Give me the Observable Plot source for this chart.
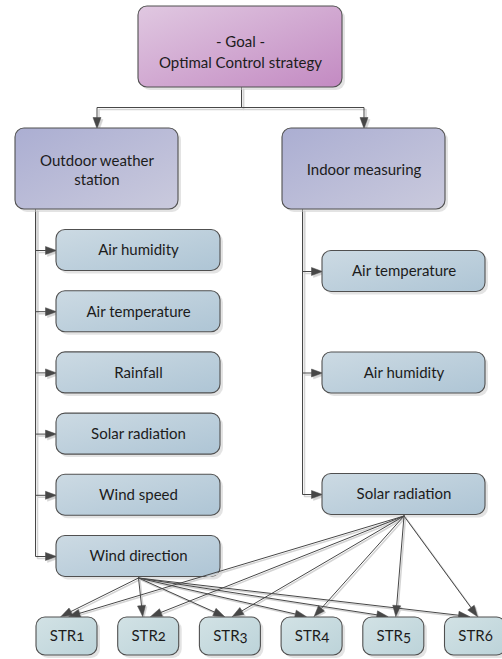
<!DOCTYPE html>
<html><head><meta charset="utf-8">
<script src="https://cdn.jsdelivr.net/npm/d3@7"></script>
<script src="https://cdn.jsdelivr.net/npm/@observablehq/plot@0.6"></script>
<style>
body{margin:0;background:#fff}
#chart svg text{font-variant-numeric:oldstyle-nums;font-feature-settings:"onum" 1}
</style>
</head><body><div id="chart"></div>
<script>
// ---------- data ----------
const goalLines = ["- Goal -", "Optimal Control strategy"];
const groupLabels = ["Outdoor weather\nstation", "Indoor measuring"];
const outdoorItems = ["Air humidity", "Air temperature", "Rainfall", "Solar radiation", "Wind speed", "Wind direction"];
const indoorItems = ["Air temperature", "Air humidity", "Solar radiation"];
const strategies = ["STR1", "STR2", "STR3", "STR4", "STR5", "STR6"];
// each strategy receives one input from each of these source items
const strategySources = [["outdoor", "Wind direction"], ["indoor", "Solar radiation"]];

// ---------- layout (pixel units via identity scales) ----------
const W = 502, H = 659;
const LAY = {
  goal: {x1: 138, x2: 342, y1: 6, y2: 87},
  groups: [{cx: 96.5}, {cx: 363.5}], groupW: 163, groupY1: 128, groupY2: 209,
  busY: 107, stemX: 241,
  outdoor: {spine: 35, x1: 56, x2: 220, top: 250, step: 61.2, h: 41},
  indoor: {spine: 302, x1: 322, x2: 485, rows: [271, 372.5, 494], h: 41},
  str: {cx0: 66.5, step: 81.7, w: 61, y1: 617, y2: 655}
};

const nodes = [];
const g = LAY.goal;
nodes.push({id: "goal", kind: "goal", x1: g.x1, x2: g.x2, y1: g.y1, y2: g.y2, label: goalLines.join("\n")});
groupLabels.forEach((lab, i) => {
  const cx = LAY.groups[i].cx;
  nodes.push({id: "group" + i, kind: "group", x1: cx - LAY.groupW / 2, x2: cx + LAY.groupW / 2, y1: LAY.groupY1, y2: LAY.groupY2, label: lab});
});
const O = LAY.outdoor, I = LAY.indoor, S = LAY.str;
outdoorItems.forEach((lab, i) => {
  const cy = O.top + i * O.step;
  nodes.push({id: "outdoor:" + lab, kind: "item", x1: O.x1, x2: O.x2, y1: cy - O.h / 2, y2: cy + O.h / 2, label: lab});
});
indoorItems.forEach((lab, i) => {
  const cy = I.rows[i];
  nodes.push({id: "indoor:" + lab, kind: "item", x1: I.x1, x2: I.x2, y1: cy - I.h / 2, y2: cy + I.h / 2, label: lab});
});
strategies.forEach((lab, i) => {
  const cx = S.cx0 + i * S.step;
  nodes.push({id: "str" + i, kind: "str", x1: cx - S.w / 2, x2: cx + S.w / 2, y1: S.y1, y2: S.y2, label: lab});
});
nodes.forEach(n => { n.cx = (n.x1 + n.x2) / 2; n.cy = (n.y1 + n.y2) / 2; });
const byId = Object.fromEntries(nodes.map(n => [n.id, n]));

// ---------- connectors ----------
const HEAD = 11, HW = 4;
const treeConn = [], strConn = [];
[0, 1].forEach(i => {
  const gn = byId["group" + i];
  treeConn.push([[LAY.stemX, g.y2], [LAY.stemX, LAY.busY], [gn.cx, LAY.busY], [gn.cx, gn.y1]]);
});
outdoorItems.forEach(lab => {
  const n = byId["outdoor:" + lab];
  treeConn.push([[O.spine, LAY.groupY2], [O.spine, n.cy], [n.x1, n.cy]]);
});
indoorItems.forEach(lab => {
  const n = byId["indoor:" + lab];
  treeConn.push([[I.spine, LAY.groupY2], [I.spine, n.cy], [n.x1, n.cy]]);
});
strategySources.forEach(([grp, lab], k) => {
  const src = byId[grp + ":" + lab];
  strategies.forEach((s, i) => {
    const t = byId["str" + i];
    strConn.push([[src.cx, src.y2 + 1], [t.cx + (k === 0 ? -6 : 2), t.y1 - 1]]);
  });
});

function build(conns, prefix, dx = 0, dy = 0) {
  const lines = [], heads = [];
  conns.forEach((pts, ci) => {
    const n = pts.length;
    const [ax, ay] = pts[n - 2], [bx, by] = pts[n - 1];
    const len = Math.hypot(bx - ax, by - ay), ux = (bx - ax) / len, uy = (by - ay) / len;
    const bx2 = bx - ux * HEAD, by2 = by - uy * HEAD;
    const p = pts.slice(0, n - 1).concat([[bx2, by2]]);
    p.forEach(([x, y]) => lines.push({id: prefix + ci, x: x + dx, y: y + dy}));
    const px = -uy, py = ux;
    [[bx, by], [bx2 + px * HW, by2 + py * HW], [bx2 - px * HW, by2 - py * HW], [bx, by]]
      .forEach(([x, y]) => heads.push({id: prefix + ci, x: x + dx, y: y + dy}));
  });
  return {lines, heads};
}
const tree = build(treeConn, "t"), treeSh = build(treeConn, "t", 2, 2);
const strA = build(strConn, "s"), strSh = build(strConn, "s", 1.5, 1.5);

const INK = "#474747", SH = "#d4d4d4";
function connMarks(main, sh) {
  return [
    Plot.line(sh.lines, {x: "x", y: "y", z: "id", stroke: SH, strokeWidth: 1.5}),
    Plot.line(sh.heads, {x: "x", y: "y", z: "id", fill: SH, stroke: SH, strokeWidth: 0.5}),
    Plot.line(main.lines, {x: "x", y: "y", z: "id", stroke: INK, strokeWidth: 1}),
    Plot.line(main.heads, {x: "x", y: "y", z: "id", fill: INK, stroke: INK, strokeWidth: 0.5})
  ];
}
function boxMarks(kind) {
  const data = nodes.filter(n => n.kind === kind);
  return [
    Plot.rect(data, {x1: d => d.x1 + 3, x2: d => d.x2 + 3, y1: d => d.y1 + 3, y2: d => d.y2 + 3, rx: 9, fill: "#c8c8c8", fillOpacity: 0.5}),
    Plot.rect(data, {x1: "x1", x2: "x2", y1: "y1", y2: "y2", rx: 9, fill: `url(#grad-${kind})`, stroke: "#505050", strokeWidth: 1.1})
  ];
}

const FS = 15;
const chart = Plot.plot({
  width: W, height: H, margin: 0,
  x: {domain: [0, W], range: [0, W], axis: null},
  y: {domain: [0, H], range: [0, H], axis: null},
  style: {fontFamily: "Lato, 'Open Sans', sans-serif", background: "#fff"},
  marks: [
    ...connMarks(tree, treeSh),
    ...boxMarks("goal"), ...boxMarks("group"), ...boxMarks("item"),
    ...connMarks(strA, strSh),
    ...boxMarks("str"),
    Plot.text(nodes.filter(n => n.kind === "goal"), {x: "cx", y: d => d.cy + 4, text: "label", fontSize: FS, lineHeight: 1.4, fill: "#1c1c1c"}),
    Plot.text(nodes.filter(n => n.kind === "group"), {x: "cx", y: "cy", text: "label", fontSize: FS, lineHeight: 1.27, fill: "#1c1c1c"}),
    Plot.text(nodes.filter(n => n.kind === "item" || n.kind === "str"), {x: "cx", y: "cy", text: "label", fontSize: FS, fill: "#1c1c1c"})
  ]
});

const grads = {
  goal: ["#e0c8e1", "#c38ac2"],
  group: ["#abaed2", "#cacadd"],
  item: ["#ccdae3", "#aec5d5"],
  str: ["#d2e2e5", "#bcd3d9"]
};
const defs = d3.select(chart).insert("defs", ":first-child");
Object.entries(grads).forEach(([k, [a, b]]) => {
  const lg = defs.append("linearGradient").attr("id", "grad-" + k)
    .attr("x1", 0).attr("y1", 0).attr("x2", 1).attr("y2", 1);
  lg.append("stop").attr("offset", 0).attr("stop-color", a);
  lg.append("stop").attr("offset", 1).attr("stop-color", b);
});
document.getElementById("chart").appendChild(chart);
</script>
</body></html>
